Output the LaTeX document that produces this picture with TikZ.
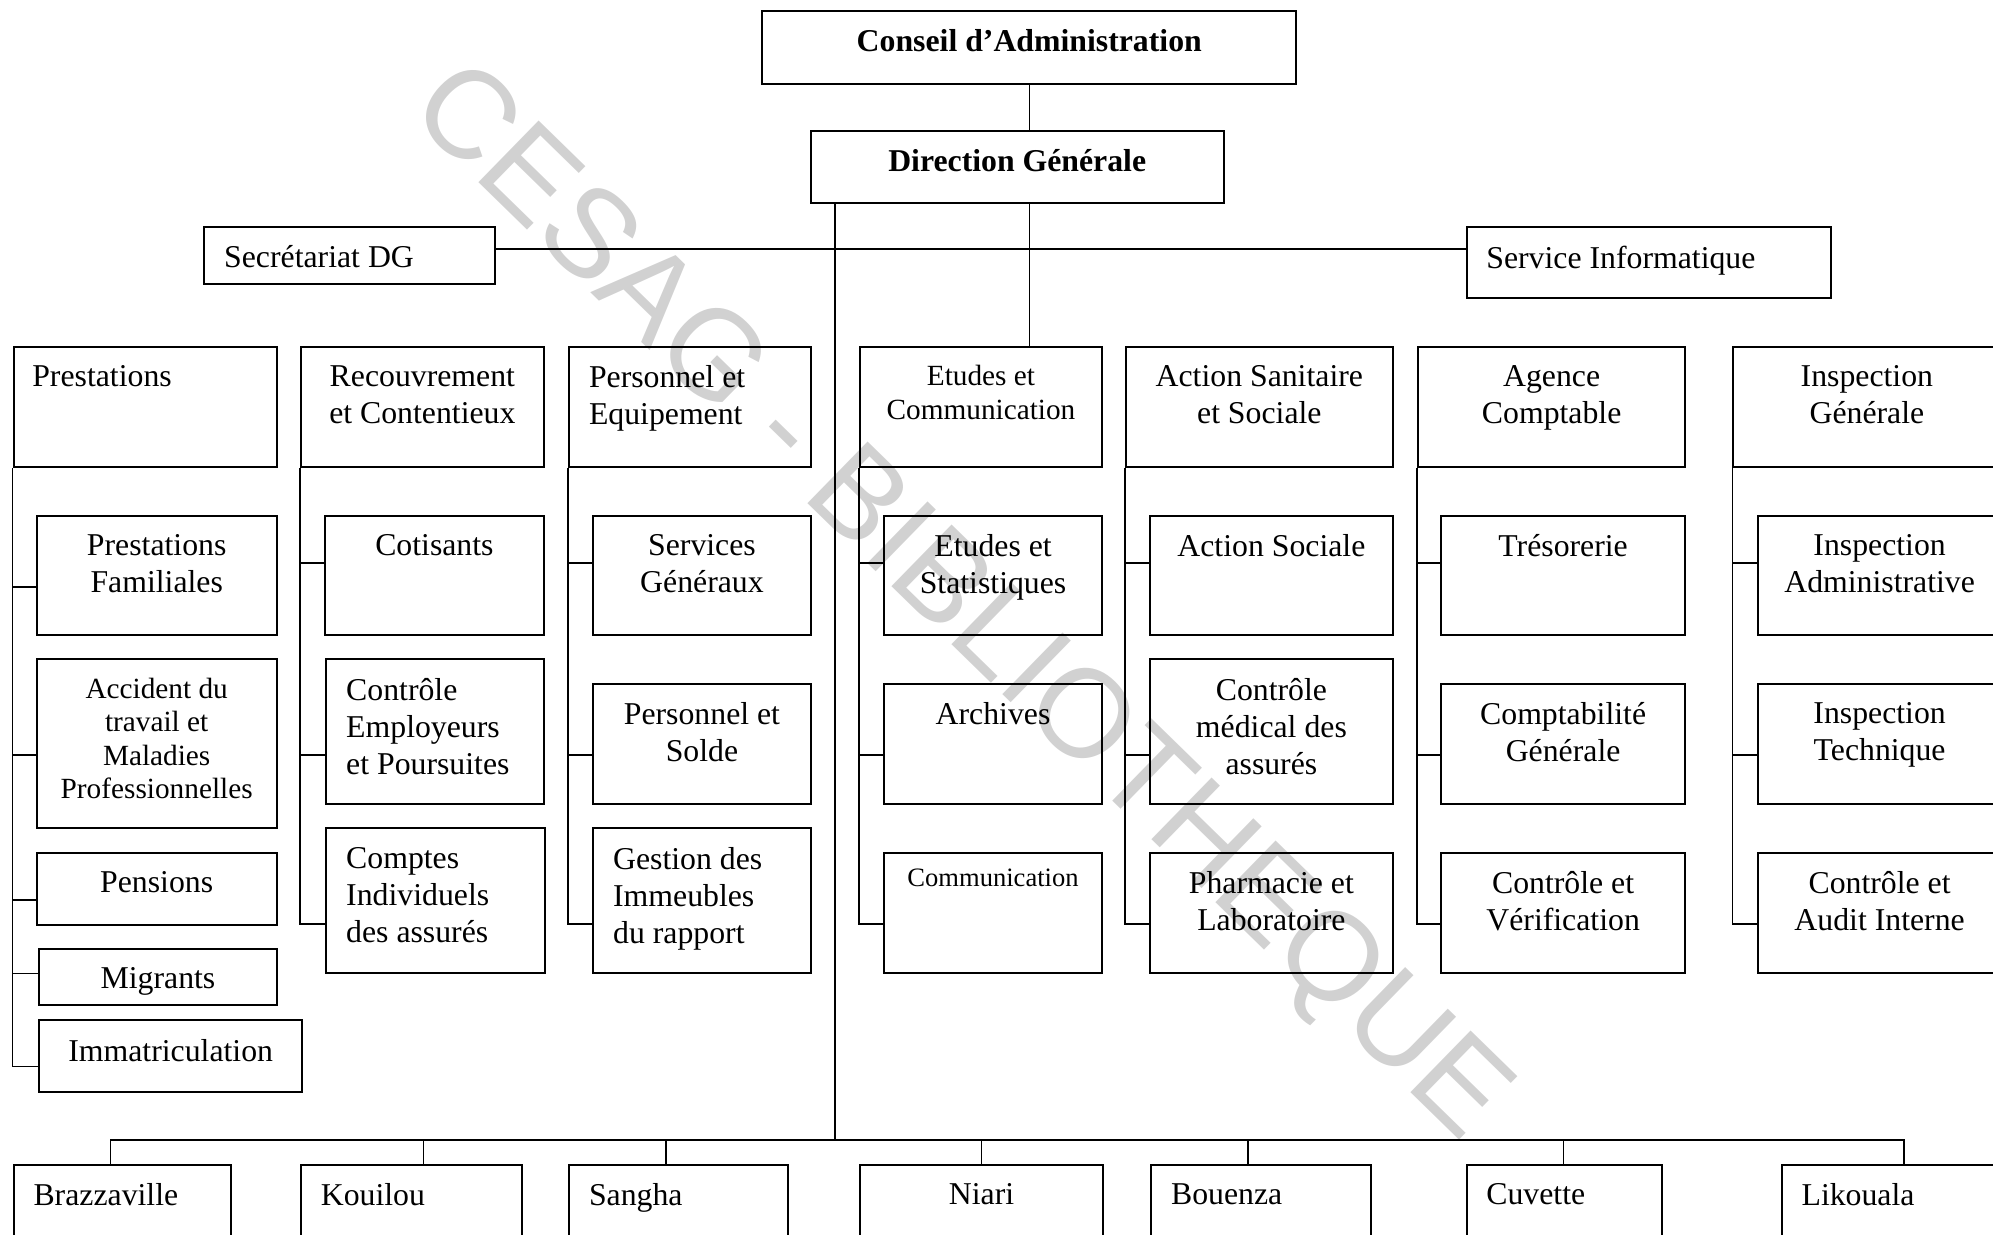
\documentclass[tikz,border=0pt]{standalone}
\usepackage{fontspec}
\setmainfont{Liberation Serif}
\newfontfamily\wmfont{Liberation Sans}
\usepackage{tikz}
\usetikzlibrary{positioning,calc}
\newcommand{\orgfont}{\fontsize{12.8pt}{15pt}\selectfont}
\newcommand{\orgsmall}{\fontsize{11.8pt}{13.5pt}\selectfont}
\newcommand{\orgtiny}{\fontsize{10.7pt}{12.5pt}\selectfont}
\tikzset{
  orgbox/.style={draw,line width=0.8pt,inner sep=0pt,anchor=north west},
  boxsize/.style 2 args={minimum width=#1*0.18mm,minimum height=#2*0.18mm},
  ctxt/.style={anchor=north,align=center,inner sep=0pt,yshift=-7.7pt,font=\orgfont},
  ltxt/.style={anchor=north west,align=left,inner sep=0pt,yshift=-7.7pt,xshift=8.2pt,font=\orgfont},
  orgline/.style={line width=0.6pt},
  watermark/.style={font=\wmfont\fontsize{50.5pt}{50pt}\selectfont,text=black!18,rotate=-44.3,text height=36pt,text depth=0pt,inner sep=0pt}
}

\begin{document}
\begin{tikzpicture}[x=0.18mm,y=-0.18mm]
\useasboundingbox (0,0) rectangle (1568,971);
\node[watermark] (wm) at (760,469) {CESAG - BIBLIOTHEQUE};
% sommet
\node[orgbox,boxsize={420}{57},label={[ctxt,font=\orgfont\bfseries]north:Conseil d’Administration}] (cad) at (599,8) {};
\node[orgbox,boxsize={325}{57},label={[ctxt,font=\orgfont\bfseries]north:Direction Générale}] (dg) at (637,102) {};
\node[orgbox,boxsize={229}{45},label={[ltxt]north west:Secrétariat DG}] (sdg) at (160,178) {};
\node[orgbox,boxsize={287}{56},label={[ltxt]north west:Service Informatique}] (sinf) at (1153,178) {};
% directions
\node[orgbox,boxsize={207}{95},label={[ltxt,xshift=-0.5pt]north west:Prestations}] (prest) at (10,272) {};
\node[orgbox,boxsize={191}{95},label={[ctxt]north:{Recouvrement\\et Contentieux}}] (recouv) at (236,272) {};
\node[orgbox,boxsize={190}{95},label={[ltxt]north west:{Personnel et\\Equipement}}] (perseq) at (447,272) {};
\node[orgbox,boxsize={190}{95},label={[ctxt,font=\orgsmall]north:{Etudes et\\Communication}}] (etcom) at (676,272) {};
\node[orgbox,boxsize={210}{95},label={[ctxt]north:{Action Sanitaire\\et Sociale}}] (ass) at (885,272) {};
\node[orgbox,boxsize={210}{95},label={[ctxt]north:{Agence\\Comptable}}] (agc) at (1115,272) {};
\node[orgbox,boxsize={210}{95},label={[ctxt]north:{Inspection\\Générale}}] (ig) at (1363,272) {};
% prestations
\node[orgbox,boxsize={189}{94},label={[ctxt]north:{Prestations\\Familiales}}] (pf) at (28,405) {};
\node[orgbox,boxsize={189}{133},label={[ctxt,font=\orgsmall]north:{Accident du\\travail et\\Maladies\\Professionnelles}}] (atmp) at (28,518) {};
\node[orgbox,boxsize={189}{57},label={[ctxt]north:Pensions}] (pens) at (28,670) {};
\node[orgbox,boxsize={187}{44},label={[ctxt]north:Migrants}] (migr) at (30,746) {};
\node[orgbox,boxsize={207}{56},label={[ctxt]north:Immatriculation}] (immat) at (30,802) {};
% recouvrement
\node[orgbox,boxsize={172}{94},label={[ctxt]north:Cotisants}] (cotis) at (255,405) {};
\node[orgbox,boxsize={171}{114},label={[ltxt]north west:{Contrôle\\Employeurs\\et Poursuites}}] (cep) at (256,518) {};
\node[orgbox,boxsize={172}{114},label={[ltxt]north west:{Comptes\\Individuels\\des assurés}}] (cia) at (256,651) {};
% personnel
\node[orgbox,boxsize={171}{94},label={[ctxt]north:{Services\\Généraux}}] (sg) at (466,405) {};
\node[orgbox,boxsize={171}{95},label={[ctxt]north:{Personnel et\\Solde}}] (ps) at (466,537) {};
\node[orgbox,boxsize={171}{114},label={[ltxt]north west:{Gestion des\\Immeubles\\du rapport}}] (gir) at (466,651) {};
% etudes
\node[orgbox,boxsize={171}{94},label={[ctxt]north:{Etudes et\\Statistiques}}] (es) at (695,405) {};
\node[orgbox,boxsize={171}{95},label={[ctxt]north:Archives}] (arch) at (695,537) {};
\node[orgbox,boxsize={171}{95},label={[ctxt,font=\orgtiny,yshift=1pt]north:Communication}] (comm) at (695,670) {};
% action sanitaire
\node[orgbox,boxsize={191}{94},label={[ctxt]north:Action Sociale}] (asoc) at (904,405) {};
\node[orgbox,boxsize={191}{114},label={[ctxt]north:{Contrôle\\médical des\\assurés}}] (cma) at (904,518) {};
\node[orgbox,boxsize={191}{95},label={[ctxt]north:{Pharmacie et\\Laboratoire}}] (pl) at (904,670) {};
% agence comptable
\node[orgbox,boxsize={192}{94},label={[ctxt]north:Trésorerie}] (treso) at (1133,405) {};
\node[orgbox,boxsize={192}{95},label={[ctxt]north:{Comptabilité\\Générale}}] (cg) at (1133,537) {};
\node[orgbox,boxsize={192}{95},label={[ctxt]north:{Contrôle et\\Vérification}}] (cv) at (1133,670) {};
% inspection
\node[orgbox,boxsize={192}{94},label={[ctxt]north:{Inspection\\Administrative}}] (ia) at (1382,405) {};
\node[orgbox,boxsize={192}{95},label={[ctxt]north:{Inspection\\Technique}}] (it) at (1382,537) {};
\node[orgbox,boxsize={192}{95},label={[ctxt]north:{Contrôle et\\Audit Interne}}] (cai) at (1382,670) {};
% agences regionales
\node[orgbox,boxsize={171}{80},label={[ltxt]north west:Brazzaville}] (brz) at (10,916) {};
\node[orgbox,boxsize={174}{80},label={[ltxt]north west:Kouilou}] (kou) at (236,916) {};
\node[orgbox,boxsize={172}{80},label={[ltxt]north west:Sangha}] (sang) at (447,916) {};
\node[orgbox,boxsize={191}{80},label={[ctxt]north:Niari}] (nia) at (676,916) {};
\node[orgbox,boxsize={173}{80},label={[ltxt]north west:Bouenza}] (bou) at (905,916) {};
\node[orgbox,boxsize={154}{80},label={[ltxt]north west:Cuvette}] (cuv) at (1153,916) {};
\node[orgbox,boxsize={190}{80},label={[ltxt]north west:Likouala}] (lik) at (1401,916) {};

% liaisons
\coordinate (hbar) at (657,196);
\coordinate (bus) at (657,897);
\draw[orgline] (cad.south) -- (cad.south |- dg.north);
\draw[orgline] (cad.south |- dg.south) -- (cad.south |- etcom.north);
\draw[orgline] (sdg.east |- hbar) -- (sinf.west |- hbar);
\draw[orgline] (bus |- dg.south) -- (bus);
\draw[orgline] ($(brz.north west)+(77,0)$) |- (bus) -| ($(lik.north west)+(97,0)$);
\draw[orgline] ($(kou.north west)+(97,0)$) |- (bus);
\draw[orgline] ($(sang.north west)+(77,0)$) |- (bus);
\draw[orgline] (nia.north) |- (bus);
\draw[orgline] ($(bou.north west)+(77,0)$) |- (bus);
\draw[orgline] ($(cuv.north west)+(77,0)$) |- (bus);

\draw[orgline] (prest.south west) |- ($(pf.north west)+(0,57)$)
  (prest.south west) |- ($(atmp.north west)+(0,76)$)
  (prest.south west) |- ($(pens.north west)+(0,38)$)
  (prest.south west) |- ($(migr.north west)+(0,20)$)
  (prest.south west) |- ($(immat.north west)+(0,37)$);
\draw[orgline] (recouv.south west) |- ($(cotis.north west)+(0,38)$)
  (recouv.south west) |- ($(cep.north west)+(0,76)$)
  (recouv.south west) |- ($(cia.north west)+(0,76)$);
\draw[orgline] (perseq.south west) |- ($(sg.north west)+(0,38)$)
  (perseq.south west) |- ($(ps.north west)+(0,57)$)
  (perseq.south west) |- ($(gir.north west)+(0,76)$);
\draw[orgline] (etcom.south west) |- ($(es.north west)+(0,38)$)
  (etcom.south west) |- ($(arch.north west)+(0,57)$)
  (etcom.south west) |- ($(comm.north west)+(0,57)$);
\draw[orgline] (ass.south west) |- ($(asoc.north west)+(0,38)$)
  (ass.south west) |- ($(cma.north west)+(0,76)$)
  (ass.south west) |- ($(pl.north west)+(0,57)$);
\draw[orgline] (agc.south west) |- ($(treso.north west)+(0,38)$)
  (agc.south west) |- ($(cg.north west)+(0,57)$)
  (agc.south west) |- ($(cv.north west)+(0,57)$);
\draw[orgline] (ig.south west) |- ($(ia.north west)+(0,38)$)
  (ig.south west) |- ($(it.north west)+(0,57)$)
  (ig.south west) |- ($(cai.north west)+(0,57)$);
\end{tikzpicture}
\end{document}
